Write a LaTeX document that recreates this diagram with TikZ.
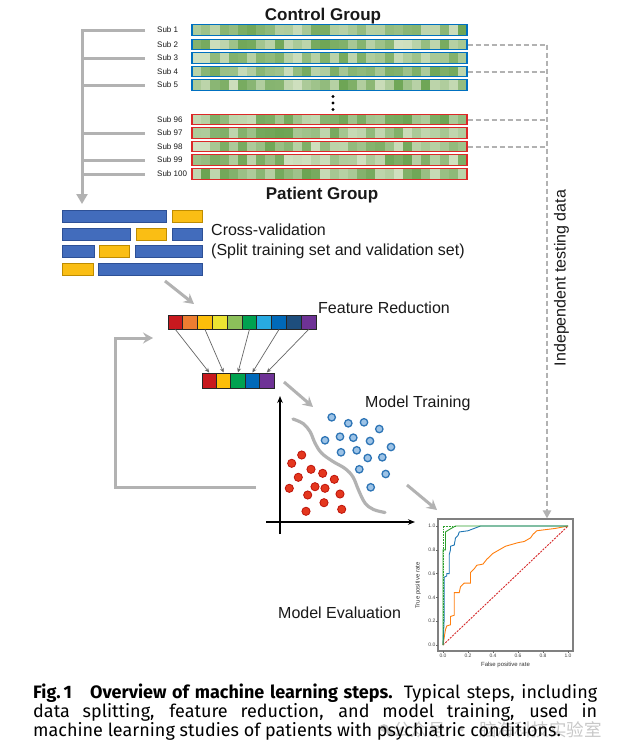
\documentclass[tikz,border=0pt]{standalone}
\usepackage{fontspec}
\setmainfont{Liberation Sans}
\newfontfamily\capfont{Fira Sans}
\newfontfamily\cjk{Noto Sans CJK SC}
\usetikzlibrary{arrows.meta}

\definecolor{txt}{RGB}{25,25,25}
\definecolor{linegray}{RGB}{178,178,178}
\definecolor{ctlblue}{RGB}{0,112,192}
\definecolor{patred}{RGB}{220,40,40}
\definecolor{barlo}{RGB}{228,236,214}
\definecolor{barhi}{RGB}{98,158,72}
\definecolor{cvblue}{RGB}{66,108,188}
\definecolor{cvblueD}{RGB}{45,80,150}
\definecolor{cvyel}{RGB}{250,190,20}
\definecolor{cvyelD}{RGB}{190,140,0}
\definecolor{fr1}{RGB}{200,25,30}
\definecolor{fr2}{RGB}{237,125,49}
\definecolor{fr3}{RGB}{252,190,10}
\definecolor{fr4}{RGB}{236,228,50}
\definecolor{fr5}{RGB}{140,192,90}
\definecolor{fr6}{RGB}{0,162,80}
\definecolor{fr7}{RGB}{40,170,225}
\definecolor{fr8}{RGB}{0,105,185}
\definecolor{fr9}{RGB}{30,78,125}
\definecolor{fr10}{RGB}{110,50,150}
\definecolor{dotblue}{RGB}{157,195,230}
\definecolor{dotblueD}{RGB}{46,117,182}
\definecolor{dotred}{RGB}{228,55,30}
\definecolor{dotredD}{RGB}{190,20,10}
\definecolor{rocblue}{RGB}{31,119,180}
\definecolor{rocorange}{RGB}{255,127,14}
\definecolor{rocgreen}{RGB}{44,160,44}
\definecolor{rocred}{RGB}{214,39,40}
\definecolor{wmark}{RGB}{200,200,200}

\tikzset{
  trunk/.style={draw=linegray, line width=3pt},
  flow/.style={draw=linegray, line width=3pt, -{Stealth[length=10pt,width=11pt,inset=3.5pt]}},
  testline/.style={draw=linegray, line width=2pt, dash pattern=on 5pt off 3pt},
  sublabel/.style={anchor=west, inner sep=0pt, font=\fontsize{8}{9}\selectfont, text=txt},
  ctlbar/.style={draw=ctlblue, line width=1.4pt, minimum width=275pt, minimum height=10.5pt, inner sep=0pt},
  patbar/.style={ctlbar, draw=patred},
  grouptitle/.style={font=\fontsize{17}{19}\selectfont\bfseries, text=txt},
  steplabel/.style={anchor=west, inner sep=0pt, font=\fontsize{16}{20}\selectfont, text=txt, align=left},
  cvtrain/.style={fill=cvblue, draw=cvblueD, line width=0.8pt},
  cvval/.style={fill=cvyel, draw=cvyelD, line width=0.8pt},
  featcell/.style={draw=black!85, line width=1pt, minimum width=14.8pt, minimum height=14pt, inner sep=0pt},
  redcell/.style={featcell, minimum width=14.4pt, minimum height=15pt},
  pick/.style={draw=black!60, line width=0.7pt, -{Stealth[length=4.5pt,width=4pt]}},
  axis/.style={draw=black, line width=1.1pt, -{Stealth[length=7pt,width=5.5pt]}},
  ctldot/.style={fill=dotblue, draw=dotblueD, line width=1.3pt},
  patdot/.style={fill=dotred, draw=dotredD, line width=0.8pt},
  rocline/.style={line width=0.9pt, line join=miter},
  ticklab/.style={inner sep=0.5pt, font=\fontsize{5}{5}\selectfont, text=black!75},
  roclab/.style={inner sep=0pt, font=\fontsize{6}{6}\selectfont, text=black!80}
}

\begin{document}
\begin{tikzpicture}[x=1pt, y=-1pt]
\useasboundingbox (0,0) rectangle (626,756);
\fill[white] (0,0) rectangle (626,756);

% subjects
\node[grouptitle] (ctltitle) at (323,16) {Control Group};
\node[grouptitle] (pattitle) at (322,195) {Patient Group};
\pgfmathsetseed{11}
\foreach \n/\y/\grp in {1/30/ctl,2/44.5/ctl,3/58/ctl,4/71.5/ctl,5/85/ctl,96/119.5/pat,97/133/pat,98/146.5/pat,99/160/pat,100/174/pat} {
  \node[sublabel] (lab\n) at (157,\y) {Sub \n};
  \foreach \k in {0,...,29} {
    \pgfmathrandominteger{\g}{15}{92}
    \fill[fill=barhi!\g!barlo] ({192+\k*9.1667},{\y-5}) rectangle ++(9.3,10);
  }
  \node[\grp bar] (bar\n) at (329.5,\y) {};
}
\foreach \d in {96.5,103,109.5} \fill[black] (333,\d) circle (1.7pt);

% training subjects
\coordinate (spineTop) at (82,30);
\coordinate (cvIn) at (82,204);
\draw[trunk, -{Triangle[length=10pt,width=11pt]}] ([xshift=-12pt]lab1.west) -| (cvIn);
\foreach \n in {3,5,97,99,100} \draw[trunk] (lab\n.west -| spineTop) -- ([xshift=-12pt]lab\n.west);

% testing subjects
\coordinate (tst) at (547,44.5);
\foreach \n in {2,4,96,98} \draw[testline] (bar\n.east) -- (bar\n.east -| tst);

% cross-validation
\draw[cvtrain] (62,210) rectangle (166,222);
\draw[cvval] (172,210) rectangle (202,222);
\draw[cvtrain] (62,228) rectangle (130,240);
\draw[cvval] (136,228) rectangle (166,240);
\draw[cvtrain] (172,228) rectangle (202,240);
\draw[cvtrain] (62,245.5) rectangle (94,257.5);
\draw[cvval] (99,245.5) rectangle (129,257.5);
\draw[cvtrain] (135,245.5) rectangle (202,257.5);
\draw[cvval] (62,263) rectangle (93,275);
\draw[cvtrain] (98,263) rectangle (202,275);
\node[steplabel] (cvtext) at (211,241) {Cross-validation\\(Split training set and validation set)};

\coordinate (cvOut) at (165,281);
\coordinate (featIn) at (194,304);
\draw[flow] (cvOut) -- (featIn);

% feature reduction
\node[steplabel] (frtext) at (318,308) {Feature Reduction};
\foreach \c [count=\i] in {fr1,fr2,fr3,fr4,fr5,fr6,fr7,fr8,fr9,fr10}
  \node[featcell, fill=\c] (f\i) at ({168+14.8*(\i-0.5)},322) {};
\foreach \c [count=\j] in {fr1,fr3,fr6,fr8,fr10}
  \node[redcell, fill=\c] (r\j) at ({202+14.4*(\j-0.5)},380.5) {};
\foreach \a/\b in {1/1,3/2,6/3,8/4,10/5} \draw[pick] (f\a.south) -- (r\b.north);

% loop back
\coordinate (fbStart) at (256,487);
\coordinate (fbX) at (115,0);
\coordinate (fbEnd) at (153,338);
\draw[flow] (fbStart) -- (fbStart -| fbX) |- (fbEnd);

\coordinate (redOut) at (284,382);
\coordinate (mtIn) at (313,407);
\draw[flow] (redOut) -- (mtIn);

% model training
\node[steplabel] (mttext) at (365,403) {Model Training};
\draw[axis] (280,534) -- (280,396);
\draw[axis] (266,522) -- (415,522);
\draw[draw=linegray, line width=3.2pt, line cap=round] plot[smooth, tension=0.6] coordinates {(293,419) (303,423.5) (310,431.5) (315,443) (321.5,453) (333,461.5) (345,468.5) (353,477) (358.5,490) (365,503) (373.5,509.5) (385,512.5)};
\foreach \p in {(331.7,417.3),(348.3,423.3),(364,422.3),(379.3,429),(340,436.7),(353.3,437.7),(370,441),(325,440.3),(391,447),(341,452.3),(356.7,450.3),(367.7,458),(382.3,457.3),(359.3,469.3),(385.7,474),(370.7,487.3)}
  \draw[ctldot] \p circle (3.7pt);
\foreach \p in {(301.7,455),(291.7,463.3),(311,469.3),(322.7,473.3),(298.3,477.3),(334.3,479.3),(289.3,488.3),(315,486.7),(325,488.3),(307.7,495),(340,494),(324,502.7),(306,511.3),(341.7,509.3)}
  \draw[patdot] \p circle (4.1pt);

\coordinate (mtOut) at (407,485);
\coordinate (rocIn) at (437,510);
\draw[flow] (mtOut) -- (rocIn);

% model evaluation
\node[steplabel] (metext) at (278,613) {Model Evaluation};
\node[draw=black!50, line width=1.1pt, minimum width=135pt, minimum height=132pt, inner sep=0pt] (roc) at (505.5,585) {};
\begin{scope}[shift={(443,645)}, x=125pt, y=119pt]
  \foreach \v [count=\i] in {0.0,0.2,0.4,0.6,0.8,1.0} {
    \draw[black!60, line width=0.5pt] (\v,-0.05) -- ++(0,-1.8pt);
    \node[ticklab, anchor=north] (xt\i) at (\v,-0.07) {\v};
    \draw[black!60, line width=0.5pt] (-0.04,\v) -- ++(-1.8pt,0);
    \node[ticklab, anchor=east] (yt\i) at (-0.055,\v) {\v};
  }
  \node[roclab] (fpr) at (0.5,-0.168) {False positive rate};
  \node[roclab, rotate=90] (tpr) at (-0.2,0.5) {True positive rate};
  \draw[rocline, rocred, dash pattern=on 2pt off 1.2pt] (0,0) -- (1,1);
  \draw[rocline, rocgreen, dash pattern=on 0.8pt off 0.8pt] (0,0) -- (0,1) -- (0.1,1);
  \draw[rocline, rocorange] (0,0) -- (0.02,0.13) -- (0.03,0.16) -- (0.06,0.17) -- (0.06,0.24) -- (0.09,0.25) -- (0.09,0.44) -- (0.13,0.44) -- (0.14,0.49) -- (0.17,0.52) -- (0.22,0.52) -- (0.22,0.61) -- (0.25,0.64) -- (0.27,0.67) -- (0.32,0.68) -- (0.35,0.72) -- (0.4,0.77) -- (0.45,0.8) -- (0.5,0.83) -- (0.6,0.86) -- (0.65,0.87) -- (0.7,0.9) -- (0.72,0.93) -- (0.75,0.96) -- (0.9,0.98) -- (1,1);
  \draw[rocline, rocblue] (0,0) -- (0.01,0.23) -- (0.01,0.57) -- (0.03,0.58) -- (0.03,0.6) -- (0.05,0.6) -- (0.05,0.76) -- (0.06,0.8) -- (0.06,0.83) -- (0.09,0.84) -- (0.1,0.9) -- (0.12,0.92) -- (0.13,0.95) -- (0.2,0.96) -- (0.25,0.98) -- (0.3,1) -- (1,1);
  \draw[rocline, rocgreen] (0,0) -- (0,0.8) -- (0.02,0.8) -- (0.02,0.95) -- (0.05,0.97) -- (0.1,1) -- (1,1);
\end{scope}
\draw[testline, -{Triangle[length=8pt,width=8pt]}] (tst) -- (tst |- roc.north);
\node[steplabel, rotate=90, anchor=center] (testtext) at (561.5,278) {Independent testing data};

% caption
\fill[wmark] (384,728) ellipse (4.5pt and 3.8pt);
\fill[wmark] (390,732) ellipse (3.8pt and 3.2pt);
\node[anchor=west, inner sep=0pt, text=wmark, font=\cjk\fontsize{17.5}{17.5}\selectfont] (wm) at (393,730) {公众号\hspace{8pt}·\hspace{8pt}脑海科技实验室};
\node[anchor=north west, inner sep=0pt, align=left, text=black, font=\capfont\fontsize{18}{19}\selectfont] (caption) at (33,684) {\makebox[564pt][s]{\textbf{Fig.\,1\quad Overview of machine learning steps.} Typical steps, including}\\\makebox[564pt][s]{data splitting, feature reduction, and model training, used in}\\machine learning studies of patients with psychiatric conditions.};
\end{tikzpicture}
\end{document}
